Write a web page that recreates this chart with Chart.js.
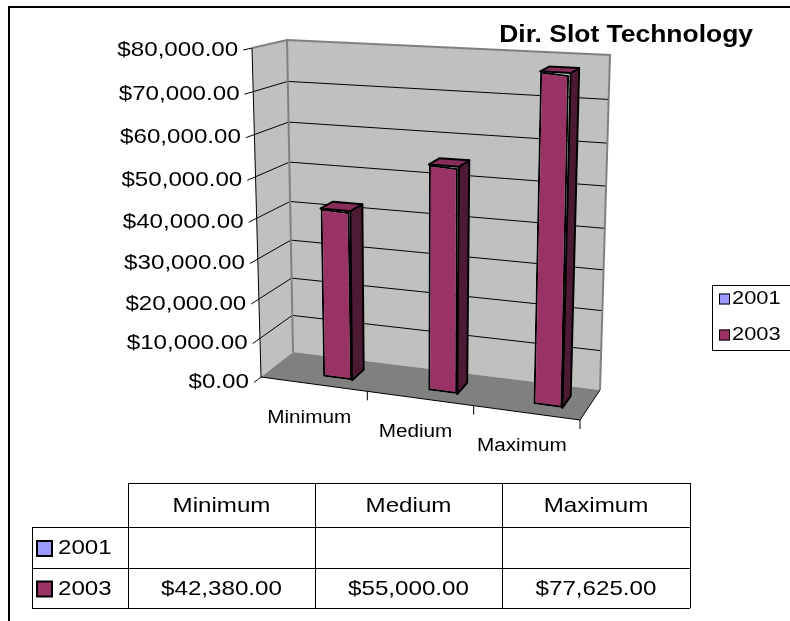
<!DOCTYPE html>
<html>
<head>
<meta charset="utf-8">
<title>Dir. Slot Technology</title>
<script src="https://cdn.jsdelivr.net/npm/chart.js@4.4.1/dist/chart.umd.min.js"></script>
<style>
    html, body { margin: 0; padding: 0; background: #fff; }
    #wrap { position: relative; width: 790px; height: 621px; }
</style>
</head>
<body>
<div id="wrap"><canvas id="slotChart"></canvas></div>
<script>
// Chart data
const chartTitle = 'Dir. Slot Technology';
const categories = ['Minimum', 'Medium', 'Maximum'];
const seriesNames = ['2001', '2003'];
const seriesColors = ['#9999FF', '#993366'];
const values2001 = [null, null, null];
const values2003 = [42380, 55000, 77625];
const yTicks = [0, 10000, 20000, 30000, 40000, 50000, 60000, 70000, 80000];
const yTickLabels = ['$0.00', '$10,000.00', '$20,000.00', '$30,000.00', '$40,000.00',
    '$50,000.00', '$60,000.00', '$70,000.00', '$80,000.00'];

const FONT = '"Liberation Sans", Arial, sans-serif';
const SX = 1.15; // text in the original is a bit wider than tall

// corners of the 3d box on screen (front plane / back plane)
const FRONT = { lb: [261, 377], rb: [580, 420], lt: [252, 48], rt: [590, 67] };
const BACK = { lb: [293, 352], rb: [600, 390], lt: [287, 40], rt: [610, 55] };
const BAR_DEPTH = [0.3, 0.7];

function lerp(a, b, t) {
    return [a[0] + (b[0] - a[0]) * t, a[1] + (b[1] - a[1]) * t];
}

// u: along categories, v: along values, w: depth (0 front, 1 back)
function proj(u, v, w) {
    v = v - 0.07 * v * (1 - v);
    const f = lerp(lerp(FRONT.lb, FRONT.rb, u), lerp(FRONT.lt, FRONT.rt, u), v);
    const b = lerp(lerp(BACK.lb, BACK.rb, u), lerp(BACK.lt, BACK.rt, u), v);
    return lerp(f, b, w);
}

function uOf(chart, px) {
    const a = chart.chartArea;
    return (px - a.left) / (a.right - a.left);
}
function vOf(chart, py) {
    const a = chart.chartArea;
    return (a.bottom - py) / (a.bottom - a.top);
}

function poly(ctx, pts, fill, stroke, lw) {
    ctx.beginPath();
    ctx.moveTo(pts[0][0], pts[0][1]);
    for (let i = 1; i < pts.length; i++) ctx.lineTo(pts[i][0], pts[i][1]);
    ctx.closePath();
    if (fill) { ctx.fillStyle = fill; ctx.fill(); }
    if (stroke) { ctx.strokeStyle = stroke; ctx.lineWidth = lw || 1; ctx.stroke(); }
}

function line(ctx, pts, color, lw) {
    ctx.beginPath();
    ctx.moveTo(pts[0][0], pts[0][1]);
    for (let i = 1; i < pts.length; i++) ctx.lineTo(pts[i][0], pts[i][1]);
    ctx.strokeStyle = color;
    ctx.lineWidth = lw || 1;
    ctx.stroke();
}

function text(ctx, str, x, y, align, font, baseline) {
    ctx.save();
    ctx.font = font;
    ctx.fillStyle = '#000';
    ctx.textAlign = align;
    ctx.textBaseline = baseline || 'middle';
    ctx.translate(x, y);
    ctx.scale(SX, 1);
    ctx.fillText(str, 0, 0);
    ctx.restore();
}

const box3d = {
    id: 'box3d',
    beforeDatasetsDraw(chart) {
        const ctx = chart.ctx;
        const yScale = chart.scales.y;
        const xScale = chart.scales.x;
        ctx.save();

        // walls and floor
        poly(ctx, [proj(0, 0, 0), proj(0, 1, 0), proj(0, 1, 1), proj(0, 0, 1)], '#C0C0C0');
        poly(ctx, [proj(0, 0, 1), proj(0, 1, 1), proj(1, 1, 1), proj(1, 0, 1)], '#C0C0C0');
        poly(ctx, [proj(0, 0, 0), proj(1, 0, 0), proj(1, 0, 1), proj(0, 0, 1)], '#808080');

        // gridlines on side and back wall
        yTicks.forEach(t => {
            if (t === yTicks[0] || t === yTicks[yTicks.length - 1]) return;
            const v = vOf(chart, yScale.getPixelForValue(t));
            line(ctx, [proj(0, v, 0), proj(0, v, 1), proj(1, v, 1)], '#000', 1);
        });

        // wall edges
        line(ctx, [proj(0, 1, 0), proj(0, 1, 1), proj(1, 1, 1), proj(1, 0, 1)], '#808080', 2);
        line(ctx, [proj(0, 0, 1), proj(0, 1, 1)], '#808080', 2);

        // axes
        line(ctx, [proj(0, 1, 0), proj(0, 0, 0), proj(1, 0, 0), proj(1, 0, 1)], '#000', 1);

        // value ticks + labels
        yTicks.forEach((t, i) => {
            const v = vOf(chart, yScale.getPixelForValue(t));
            const p0 = proj(0, v, 0);
            const p1 = proj(0, v, 1);
            const dx = p0[0] - p1[0], dy = p0[1] - p1[1];
            const len = Math.hypot(dx, dy);
            const end = [p0[0] + dx / len * 9, p0[1] + dy / len * 9];
            line(ctx, [p0, end], '#000', 1);
            text(ctx, yTickLabels[i], end[0] - 5, end[1], 'right', '21px ' + FONT);
        });

        // category ticks + labels
        for (let i = 0; i < categories.length; i++) {
            const u = uOf(chart, xScale.getPixelForValue(i + 0.5));
            const p = proj(u, 0, 0);
            line(ctx, [p, [p[0], p[1] + 9]], '#000', 1);
            const c = proj(uOf(chart, xScale.getPixelForValue(i)), 0, 0);
            text(ctx, categories[i], c[0] - 5, c[1] + 33.5, 'center', '18px ' + FONT);
        }
        ctx.restore();
    },
    beforeDatasetDraw(chart, args) {
        if (args.index !== 1) return false;
        const ctx = chart.ctx;
        const meta = chart.getDatasetMeta(args.index);
        const [w0, w1] = BAR_DEPTH;
        meta.data.forEach(bar => {
            const p = bar.getProps(['x', 'y', 'base', 'width']);
            const x0 = p.x - p.width / 2, x1 = p.x + p.width / 2;
            const u0 = uOf(chart, x0), u1 = uOf(chart, x1);
            const vb = vOf(chart, p.base), vt = vOf(chart, p.y);
            const bl = proj(u0, vb, w0), br = proj(u1, vb, w0), tl = proj(u0, vt, w0), tr = proj(u1, vt, w0);

            // front face drawn by chart.js, mapped onto the 3d front quad
            const ax = (br[0] - bl[0]) / (x1 - x0), ay = (br[1] - bl[1]) / (x1 - x0);
            const bx = (tl[0] - bl[0]) / (p.y - p.base), by = (tl[1] - bl[1]) / (p.y - p.base);
            ctx.save();
            ctx.transform(ax, ay, bx, by,
                bl[0] - ax * x0 - bx * p.base, bl[1] - ay * x0 - by * p.base);
            bar.draw(ctx);
            ctx.restore();

            // side and top faces
            ctx.save();
            ctx.lineJoin = 'round';
            poly(ctx, [br, proj(u1, vb, w1), proj(u1, vt, w1), tr], '#4D1A33', '#000', 2);
            poly(ctx, [tl, tr, proj(u1, vt, w1), proj(u0, vt, w1)], '#862D59', '#000', 2);
            ctx.restore();
        });
        return false;
    },
    afterDraw(chart) {
        const ctx = chart.ctx;
        const datasets = chart.data.datasets;
        ctx.save();

        // outer frame
        line(ctx, [[9, 800], [9, 7], [800, 7]], '#000', 2);

        // title
        text(ctx, chartTitle, 753, 42, 'right', 'bold 23px ' + FONT, 'alphabetic');

        // legend
        ctx.strokeStyle = '#000';
        ctx.lineWidth = 1;
        ctx.strokeRect(712.5, 285.5, 100, 65);
        datasets.forEach((ds, i) => {
            const cy = 299 + i * 36;
            ctx.fillStyle = ds.backgroundColor;
            ctx.fillRect(719, cy - 5.5, 11, 11);
            ctx.strokeRect(719.5, cy - 5, 10, 10);
            text(ctx, ds.label, 732, cy, 'left', '19px ' + FONT);
        });

        // data table
        const cols = [128, 315, 502, 690];
        const rows = [483, 527, 568, 608];
        const labelLeft = 32;
        ctx.strokeStyle = '#000';
        ctx.lineWidth = 1;
        line(ctx, [[cols[0], rows[0] + 0.5], [cols[3], rows[0] + 0.5]], '#000', 1);
        for (let r = 1; r < rows.length; r++) {
            line(ctx, [[labelLeft, rows[r] + 0.5], [cols[3], rows[r] + 0.5]], '#000', 1);
        }
        cols.forEach(c => line(ctx, [[c + 0.5, rows[0]], [c + 0.5, rows[3]]], '#000', 1));
        line(ctx, [[labelLeft + 0.5, rows[1]], [labelLeft + 0.5, rows[3]]], '#000', 1);

        categories.forEach((c, i) => {
            text(ctx, c, (cols[i] + cols[i + 1]) / 2, (rows[0] + rows[1]) / 2 + 1, 'center', '21px ' + FONT);
        });
        datasets.forEach((ds, r) => {
            const cy = (rows[r + 1] + rows[r + 2]) / 2 + 1;
            ctx.fillStyle = ds.backgroundColor;
            ctx.fillRect(37, cy - 7.5, 15, 15);
            ctx.strokeStyle = '#000';
            ctx.lineWidth = 2;
            ctx.strokeRect(37, cy - 7.5, 15, 15);
            text(ctx, ds.label, 58, cy, 'left', '21px ' + FONT);
            ds.data.forEach((val, i) => {
                if (val === null) return;
                const s = '$' + val.toLocaleString('en-US', { minimumFractionDigits: 2, maximumFractionDigits: 2 });
                text(ctx, s, (cols[i] + cols[i + 1]) / 2, cy, 'center', '21px ' + FONT);
            });
        });
        ctx.restore();
    }
};

const chart = new Chart(document.getElementById('slotChart'), {
    type: 'bar',
    data: {
        labels: categories,
        datasets: [{
            label: seriesNames[0],
            data: values2001,
            backgroundColor: seriesColors[0],
            borderColor: '#000',
            borderWidth: 2,
            borderSkipped: false
        }, {
            label: seriesNames[1],
            data: values2003,
            backgroundColor: seriesColors[1],
            borderColor: '#000',
            borderWidth: 2,
            borderSkipped: false
        }]
    },
    options: {
        responsive: true,
        maintainAspectRatio: false,
        animation: false,
        categoryPercentage: 0.55,
        barPercentage: 1.0,
        layout: { padding: { left: 261, right: 210, top: 48, bottom: 244 } },
        plugins: {
            legend: { display: false },
            title: { display: false },
            tooltip: { enabled: false }
        },
        scales: {
            x: { display: false },
            y: {
                display: false,
                min: yTicks[0],
                max: yTicks[yTicks.length - 1],
                ticks: { stepSize: 10000 }
            }
        }
    },
    plugins: [box3d]
});
</script>
</body>
</html>
